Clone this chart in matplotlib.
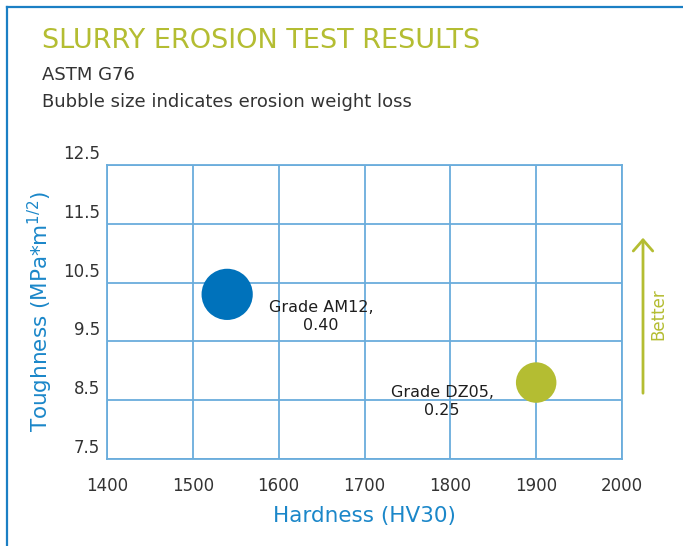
import numpy as np
import matplotlib
matplotlib.use("Agg")
import matplotlib.pyplot as plt
from matplotlib.lines import Line2D
from matplotlib.transforms import ScaledTranslation

# data
grades = ["Grade AM12", "Grade DZ05"]
hardness = [1540, 1900]
toughness = [10.3, 8.8]
weight_loss = [0.40, 0.25]
bubble_colors = ["#0072BB", "#B4BD32"]

x_ticks = [1400, 1500, 1600, 1700, 1800, 1900, 2000]
y_ticks = [7.5, 8.5, 9.5, 10.5, 11.5, 12.5]

green = "#B4BD32"
blue_txt = "#1B87C9"
grid_col = "#6AADDC"

plt.rcParams['font.family'] = ['DejaVu Sans']

fig = plt.figure(figsize=(6.83, 5.46), dpi=100)
ax = fig.add_axes([107/683, 87/546, 515/683, 294/546])

# bubbles, area proportional to weight loss
sizes = [w * 3400 for w in weight_loss]
ax.scatter(hardness, toughness, s=sizes, c=bubble_colors, zorder=3, linewidths=0)

ax.set_xlim(x_ticks[0], x_ticks[-1])
ax.set_ylim(y_ticks[0], y_ticks[-1])
ax.set_xticks(x_ticks)
ax.set_yticks(y_ticks)
ax.grid(True, color=grid_col, linewidth=1.3, zorder=1)
for s in ax.spines.values():
    s.set_color(grid_col)
    s.set_linewidth(1.3)
ax.tick_params(length=0, labelsize=12, labelcolor="#333333")
ax.tick_params(axis='x', pad=13)
ax.tick_params(axis='y', pad=5)
# tick labels on the y axis sit a bit above their gridlines
for lab in ax.get_yticklabels():
    lab.set_transform(lab.get_transform() + ScaledTranslation(0, 0.13, fig.dpi_scale_trans))

ax.set_xlabel("Hardness (HV30)", fontsize=15.5, color=blue_txt, labelpad=8)
ax.set_ylabel("Toughness (MPa*m$^{1/2}$)", fontsize=15.5, color=blue_txt, labelpad=6)

# bubble labels
label_offsets = [(94, -22), (-94, -19)]
for g, x, y, w, off in zip(grades, hardness, toughness, weight_loss, label_offsets):
    ax.annotate(f"{g},\n{w:.2f}", (x, y), xytext=off, textcoords="offset pixels",
                ha="center", va="center", fontsize=11.5,
                color="#1E1E1E", linespacing=1.3, zorder=4)

# titles
fig.text(42/683, 1 - 41/546, "SLURRY EROSION TEST RESULTS", fontsize=19.5,
         color=green, va="center", ha="left")
fig.text(42/683, 1 - 75/546, "ASTM G76", fontsize=13, color="#333333", va="center")
fig.text(42/683, 1 - 102/546, "Bubble size indicates erosion weight loss", fontsize=13,
         color="#333333", va="center")

# "Better" arrow
fig.patches.append(matplotlib.patches.FancyArrowPatch(
    (643/683, 1 - 396/546), (643/683, 1 - 235/546), transform=fig.transFigure,
    arrowstyle="->,head_length=8,head_width=7", color=green, linewidth=2))
fig.text(658/683, 1 - 314/546, "Better", rotation=90, fontsize=12, color=green,
         ha="center", va="center")

# frame lines at top and left
fig.add_artist(Line2D([7/683, 1], [1 - 7/546, 1 - 7/546], transform=fig.transFigure,
                      color="#1B7FC4", linewidth=1.6))
fig.add_artist(Line2D([7/683, 7/683], [0, 1 - 7/546], transform=fig.transFigure,
                      color="#1B7FC4", linewidth=1.6))

fig.savefig("out.png", dpi=100)
